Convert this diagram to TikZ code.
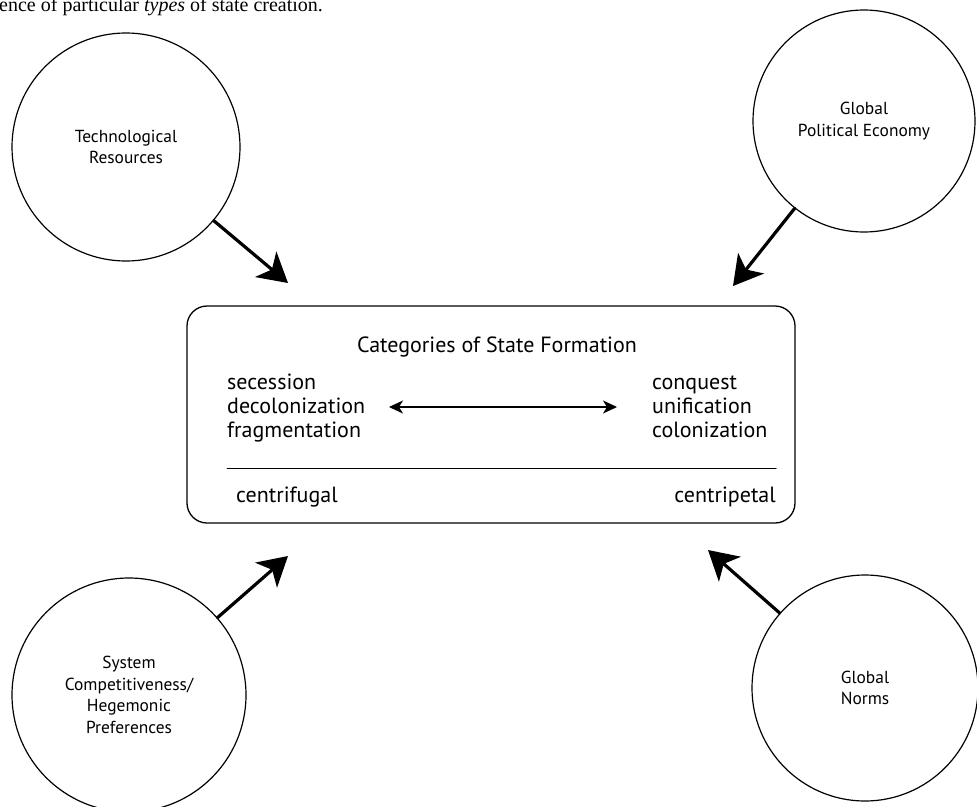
\documentclass[tikz,border=0pt]{standalone}
\usepackage{fontspec}
\setmainfont{PT Sans}
\newfontfamily\testoserif{Liberation Serif}
\usetikzlibrary{arrows.meta}

\begin{document}
\begin{tikzpicture}[x=1pt, y=-1pt, line cap=round, line join=round,
  fattore/.style={circle, draw, line width=1.2pt, minimum size=#1, inner sep=0pt,
    align=center, font=\fontsize{17.4}{21.5}\selectfont},
  freccia/.style={line width=3.2pt, -{Stealth[length=29pt, width=33pt, inset=8pt]}},
  voce/.style={inner sep=0pt, align=left, font=\fontsize{22}{24}\selectfont},
  doppia/.style={line width=1.1pt, <->, >={Stealth[length=14pt, width=13pt, inset=4pt]}}]

% cornice della figura
\useasboundingbox (0,0) rectangle (977,806);
\clip (0,0) rectangle (977,806);

% riga di testo tagliata in alto
\node[anchor=base west, inner sep=0pt, font=\testoserif\fontsize{20}{24}\selectfont]
  (intro) at (-1,11.5) {ence of particular \textit{types} of state creation.};

% riquadro centrale
\node[draw, line width=1.3pt, rounded corners=20pt, minimum width=608pt,
  minimum height=217pt] (categorie) at (491,414.5) {};

% i quattro cerchi
\node[fattore=228pt] (tecno) at (126,147) {Technological\\Resources};
\node[fattore=222pt] (econ) at (864,121) {Global\\Political Economy};
\node[fattore=234pt] (egem) at (129,695)
  {System\\Competitiveness/\\Hegemonic\\Preferences};
\node[fattore=226pt] (norme) at (865,688) {Global\\Norms};

% punte delle frecce verso il riquadro
\coordinate (pT) at (288,283);
\coordinate (pE) at (733,286);
\coordinate (pS) at (288,556);
\coordinate (pN) at (708,550);

\draw[freccia] (tecno) -- (pT);
\draw[freccia] (econ) -- (pE);
\draw[freccia] (egem) -- (pS);
\draw[freccia] (norme) -- (pN);

% testo dentro il riquadro (base = ultima riga)
\node[voce, anchor=base] (titolo) at (497,352) {Categories of State Formation};
\node[voce, anchor=base west] (sinistra) at (227,437)
  {secession\\decolonization\\fragmentation};
\node[voce, anchor=base west] (destra) at (652,437)
  {conquest\\unification\\colonization};

% doppia freccia tra le due colonne
\coordinate (sx) at (389,407);
\coordinate (dx) at (617,407);
\draw[doppia] (sx) -- (dx);

% linea orizzontale
\draw[line width=1pt] (227,468) -- (776,468);

\node[voce, anchor=base west] (cf) at (236,502) {centrifugal};
\node[voce, anchor=base east] (cp) at (776,502) {centripetal};
\end{tikzpicture}
\end{document}
